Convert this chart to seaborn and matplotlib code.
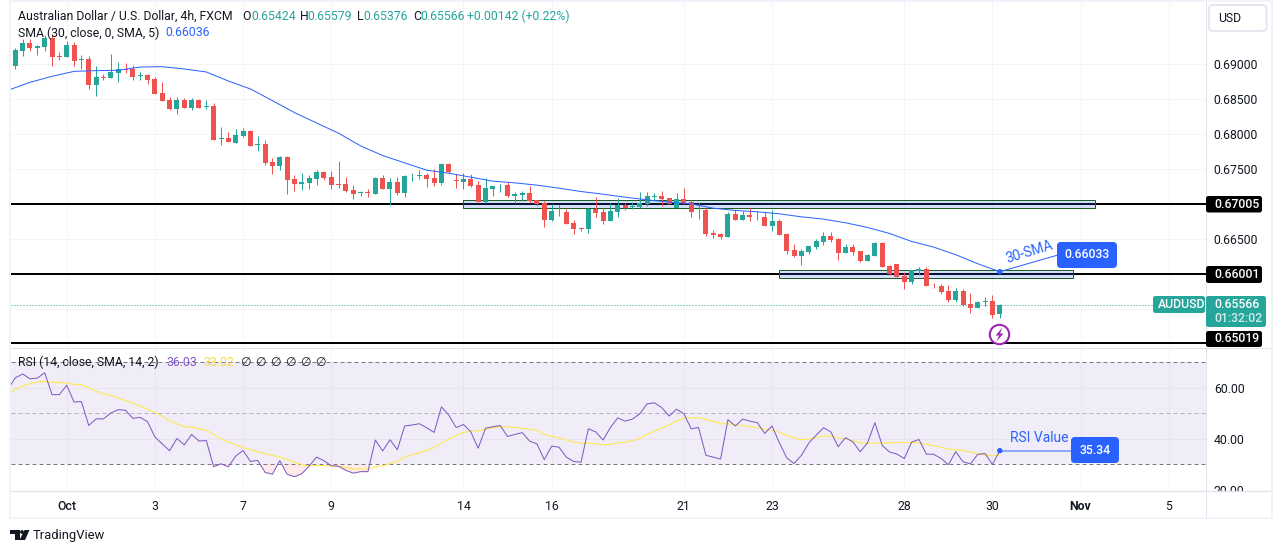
import numpy as np
import pandas as pd
import matplotlib
matplotlib.use('Agg')
import matplotlib.pyplot as plt
import seaborn as sns
from matplotlib.patches import Rectangle, FancyBboxPatch, Circle, Polygon

# AUD/USD 4h candles
opens = [
    .68983, .69193, .69307, .69240, .69250, .69383, .69121, .69107, .69279, .69069,
    .69079, .68707, .68821, .68812, .68883, .68931, .68936, .68836, .68850, .68793,
    .68593, .68488, .68364, .68488, .68379, .68493, .68398, .68407, .67931, .67945,
    .67879, .67979, .68050, .67855, .67864, .67607, .67550, .67683, .67364, .67293,
    .67307, .67364, .67464, .67393, .67293, .67293, .67207, .67169, .67179, .67150,
    .67379, .67221, .67321, .67164, .67398, .67398, .67421, .67378, .67312, .67578,
    .67350, .67321, .67364, .67278, .67040, .67221, .67274, .67278, .67126, .67140,
    .67164, .67064, .67021, .66778, .66907, .66893, .66736, .66660, .66650, .66936,
    .66893, .66764, .66893, .66993, .66959, .66955, .67007, .67107, .67121, .67093,
    .66950, .67079, .67036, .66912, .66921, .66593, .66579, .66536, .66864, .66779,
    .66850, .66836, .66821, .66693, .66764, .66579, .66350, .66264, .66321, .66393,
    .66464, .66550, .66507, .66307, .66393, .66336, .66193, .66264, .66450, .66121,
    .66150, .65979, .65893, .66050, .66079, .65850, .65836, .65764, .65636, .65764,
    .65579, .65522, .65607, .65621, .65424]
closes = [
    .69207, .69307, .69236, .69264, .69379, .69112, .69107, .69279, .69055, .69079,
    .68707, .68821, .68812, .68898, .68936, .68921, .68821, .68845, .68783, .68583,
    .68479, .68364, .68488, .68383, .68493, .68383, .68407, .67926, .67945, .67893,
    .67993, .68050, .67836, .67864, .67593, .67555, .67679, .67350, .67293, .67321,
    .67379, .67464, .67379, .67279, .67279, .67193, .67150, .67179, .67169, .67379,
    .67221, .67321, .67164, .67407, .67407, .67421, .67364, .67312, .67578, .67464,
    .67331, .67364, .67264, .67040, .67236, .67264, .67283, .67121, .67150, .67164,
    .67050, .67007, .66778, .66907, .66898, .66721, .66650, .66650, .66936, .66878,
    .66764, .66907, .66993, .66950, .66974, .67021, .67121, .67117, .67079, .67007,
    .67079, .67021, .66893, .66921, .66579, .66564, .66536, .66864, .66779, .66850,
    .66821, .66831, .66693, .66764, .66564, .66336, .66264, .66336, .66407, .66479,
    .66550, .66493, .66307, .66393, .66321, .66193, .66279, .66450, .66107, .66007,
    .65964, .65893, .66064, .66074, .65836, .65841, .65750, .65636, .65764, .65564,
    .65522, .65607, .65621, .65421, .65566]
highs = [
    .69231, .69360, .69360, .69279, .69421, .69421, .69183, .69331, .69326, .69136,
    .69121, .68979, .68864, .69150, .69036, .69026, .68993, .68893, .68864, .68817,
    .68750, .68531, .68531, .68517, .68517, .68502, .68493, .68445, .68107, .68036,
    .68079, .68093, .68064, .67979, .67921, .67660, .67693, .67693, .67421, .67450,
    .67421, .67493, .67479, .67479, .67621, .67393, .67279, .67193, .67221, .67393,
    .67421, .67379, .67393, .67421, .67450, .67493, .67450, .67502, .67588, .67588,
    .67436, .67445, .67436, .67336, .67378, .67264, .67293, .67321, .67178, .67193,
    .67264, .67064, .67050, .67007, .66993, .66936, .66778, .66678, .66950, .67107,
    .66950, .67021, .67093, .67021, .67036, .67178, .67178, .67164, .67193, .67093,
    .67164, .67236, .67064, .67036, .66950, .66636, .66593, .66893, .66921, .66907,
    .66950, .66907, .66893, .66921, .66793, .66593, .66436, .66364, .66407, .66507,
    .66607, .66607, .66521, .66436, .66436, .66336, .66293, .66464, .66464, .66136,
    .66150, .66036, .66064, .66107, .66107, .65879, .65864, .65850, .65807, .65793,
    .65736, .65621, .65679, .65707, .65579]
lows = [
    .68936, .69126, .69198, .69136, .69198, .68983, .69064, .69107, .68983, .68936,
    .68645, .68550, .68779, .68812, .68750, .68883, .68779, .68779, .68721, .68579,
    .68479, .68350, .68293, .68374, .68350, .68379, .68364, .67926, .67850, .67893,
    .67879, .67964, .67836, .67769, .67564, .67436, .67488, .67150, .67193, .67207,
    .67221, .67279, .67350, .67221, .67236, .67179, .67079, .67112, .67107, .67150,
    .67221, .66993, .67136, .67107, .67336, .67364, .67250, .67255, .67283, .67445,
    .67236, .67221, .67250, .67040, .67021, .67121, .67178, .67107, .67021, .67050,
    .67021, .66978, .66678, .66764, .66836, .66721, .66579, .66621, .66593, .66821,
    .66721, .66764, .66821, .66921, .66936, .66950, .66978, .67050, .66978, .67007,
    .66950, .67007, .66821, .66793, .66550, .66521, .66507, .66536, .66779, .66779,
    .66764, .66779, .66693, .66621, .66564, .66293, .66250, .66136, .66293, .66364,
    .66421, .66464, .66207, .66307, .66279, .66179, .66193, .66264, .66107, .65993,
    .65964, .65793, .65864, .65993, .65836, .65807, .65721, .65607, .65607, .65550,
    .65450, .65522, .65550, .65379, .65376]

# 30 SMA, read every third bar
sma_bars = [-1, 2, 5, 8, 11, 14, 17, 20, 23, 26, 29, 32, 35, 38, 41, 44, 47, 50, 53, 56, 59, 62,
            65, 68, 71, 74, 77, 80, 83, 86, 89, 92, 95, 98, 101, 104, 107, 110, 113, 116, 119,
            122, 125, 128, 131, 134]
sma_values = [
    .68631, .68745, .68831, .68902, .68912, .68917, .68964, .68969, .68936, .68893,
    .68764, .68650, .68483, .68312, .68164, .68017, .67836, .67698, .67593, .67488,
    .67445, .67388, .67331, .67307, .67274, .67231, .67183, .67145, .67102, .67064,
    .67031, .67007, .66945, .66912, .66893, .66864, .66821, .66788, .66736, .66669,
    .66583, .66469, .66388, .66279, .66150, .66036]

# RSI and its SMA, first value is the bar before the first candle
rsi_values = [
    59.3, 63.9, 65.4, 63.5, 63.8, 65.9, 57.3, 57.3, 61.0, 54.4,
    54.6, 45.2, 47.8, 47.8, 50.1, 51.4, 51.2, 48.0, 48.4, 46.7,
    40.7, 38.0, 35.3, 40.1, 37.6, 41.7, 39.1, 39.3, 29.0, 30.2,
    29.0, 33.2, 35.4, 31.1, 31.5, 26.8, 26.1, 31.4, 26.1, 25.1,
    26.3, 29.3, 32.8, 31.4, 29.4, 29.2, 27.6, 26.5, 27.1, 27.1,
    39.5, 35.2, 39.6, 35.7, 45.0, 45.4, 45.9, 44.3, 42.5, 52.5,
    49.3, 44.4, 45.6, 42.7, 36.3, 44.1, 44.7, 45.2, 40.9, 41.7,
    42.4, 39.1, 38.0, 31.8, 37.1, 36.7, 32.8, 31.1, 30.8, 43.9,
    42.7, 39.5, 44.4, 48.2, 46.9, 47.7, 49.8, 53.7, 54.1, 52.2,
    48.9, 51.6, 49.8, 43.9, 44.4, 33.5, 32.8, 32.0, 47.5, 45.0,
    47.7, 46.9, 46.3, 42.1, 45.0, 38.4, 32.5, 30.3, 33.5, 38.3,
    41.4, 44.3, 42.7, 36.9, 40.4, 38.8, 34.9, 38.4, 46.3, 37.4,
    34.8, 34.0, 32.2, 38.7, 39.7, 34.0, 33.9, 32.3, 29.8, 34.9,
    31.0, 30.1, 33.9, 34.2, 29.9, 35.34]
rsi_sma_values = [
    57.9, 59.3, 60.7, 61.6, 62.2, 62.5, 62.2, 62.0, 61.8, 61.4,
    61.2, 60.0, 58.6, 57.6, 57.0, 56.1, 55.0, 54.0, 52.8, 51.6,
    50.3, 48.8, 47.1, 45.9, 44.7, 44.6, 43.9, 43.3, 41.7, 40.1,
    38.7, 37.6, 36.6, 35.7, 34.9, 34.1, 33.5, 32.8, 31.9, 30.8,
    29.9, 29.4, 29.5, 29.5, 29.3, 29.2, 28.6, 28.2, 28.1, 28.1,
    29.0, 29.4, 30.2, 31.1, 32.8, 33.7, 34.5, 35.4, 36.6, 38.2,
    39.9, 41.2, 42.4, 43.1, 43.1, 43.8, 44.3, 44.8, 44.7, 44.4,
    44.1, 43.7, 43.3, 41.7, 40.9, 40.4, 39.5, 38.7, 38.3, 38.3,
    38.0, 37.6, 37.9, 38.3, 38.7, 39.3, 40.1, 41.7, 43.0, 44.2,
    45.5, 46.9, 48.1, 48.2, 48.2, 47.6, 46.8, 45.9, 45.9, 45.5,
    45.2, 44.7, 44.3, 43.7, 43.3, 42.5, 41.3, 40.4, 39.6, 39.9,
    40.5, 41.2, 41.0, 40.4, 40.0, 39.3, 38.4, 38.3, 38.3, 38.3,
    38.4, 38.6, 38.4, 38.4, 38.4, 37.8, 37.3, 36.7, 35.9, 35.7,
    35.4, 34.8, 34.0, 33.6, 33.3, 33.6]

date_bars = [7, 19, 31, 43, 61, 73, 91, 103, 121, 133, 145, 157]
date_labels = ['Oct', '3', '7', '9', '14', '16', '21', '23', '28', '30', 'Nov', '5']
price_ticks = [.655, .66, .665, .67, .675, .68, .685, .69]
price_tick_labels = ['', '', '0.66500', '', '0.67500', '0.68000', '0.68500', '0.69000']
rsi_ticks = [20, 40, 60]
levels = [.67005, .66001, .65019]
upper_zone = [61, 147, .66951, .67057]
lower_zone = [104, 144, .65950, .66056]
last_price = .65566
last_bar = 134

UP = '#26a69a'
DOWN = '#ef5350'
BLUE = '#2962ff'
INK = '#131722'
FRAME = '#f0f3fa'
SEP = '#e0e3eb'
GRID = '#f3f4f6'
FONT = ['Roboto', 'DejaVu Sans']
W, H = 1281, 553
PX = 0.72  # one picture pixel as a line width

sns.set_theme(style='whitegrid', rc={'grid.color': GRID, 'grid.linewidth': PX})
plt.rcParams['font.family'] = FONT
plt.rcParams['font.size'] = 8.8

candles = pd.DataFrame({'open': opens, 'high': highs, 'low': lows, 'close': closes})
candles['bar'] = np.arange(len(candles))
candles['color'] = np.where(candles['close'] >= candles['open'], UP, DOWN)
sma = pd.DataFrame({'bar': sma_bars, 'value': sma_values})
rsi = pd.DataFrame({'bar': np.arange(-1, 135), 'rsi': rsi_values, 'rsi_sma': rsi_sma_values})

fig = plt.figure(figsize=(W / 100, H / 100), dpi=100)
fig.patch.set_facecolor('white')


def add_pane(x0, y0, x1, y1):
    return fig.add_axes([x0 / W, 1 - y1 / H, (x1 - x0) / W, (y1 - y0) / H])


ax = add_pane(11, 2, 1205.5, 347)
ax_rsi = add_pane(11, 348, 1205.5, 490)

# price pane
ax.set_xlim(-0.585, 162)
ax.set_ylim(.64959, .69894)
ax.set_axisbelow(True)
for level in levels:
    ax.axhline(level, color='black', lw=2 * PX, zorder=2)
for zone in (upper_zone, lower_zone):
    ax.add_patch(Rectangle((zone[0], zone[2]), zone[1] - zone[0], zone[3] - zone[2],
                           facecolor=(0.16, 0.38, 1.0, 0.2), edgecolor='#1b5e20', lw=PX, zorder=3))
ax.axhline(last_price, color=UP, lw=PX, ls=(0, (1, 2)), zorder=3)
ax.vlines(candles['bar'], candles['low'], candles['high'], colors=candles['color'], lw=PX, zorder=4)
ax.bar(candles['bar'], (candles['close'] - candles['open']).abs().clip(lower=.00008),
       bottom=candles[['open', 'close']].min(axis=1), width=0.68, color=candles['color'], lw=0, zorder=5)
sns.lineplot(data=sma, x='bar', y='value', color=BLUE, lw=PX, ax=ax, zorder=6, estimator=None)
ax.yaxis.tick_right()
ax.set_yticks(price_ticks)
ax.set_yticklabels(price_tick_labels)
ax.set_xticks(date_bars)
ax.tick_params(axis='x', length=0, labelbottom=False)
ax.tick_params(axis='y', length=0, pad=6, labelcolor=INK, labelsize=8.8)
ax.set_xlabel('')
ax.set_ylabel('')

# RSI pane
ax_rsi.set_xlim(ax.get_xlim())
ax_rsi.set_ylim(19.9, 75.6)
ax_rsi.set_axisbelow(True)
ax_rsi.axhspan(30, 70, facecolor='#7e57c2', alpha=0.1, lw=0, zorder=1)
ax_rsi.axhline(70, color='#787b86', lw=PX, ls=(0, (4, 3)), zorder=2)
ax_rsi.axhline(50, color='#787b86', lw=PX, ls=(0, (4, 3)), alpha=0.5, zorder=2)
ax_rsi.axhline(30, color='#787b86', lw=PX, ls=(0, (4, 3)), zorder=2)
ax_rsi.fill_between(rsi['bar'], rsi['rsi'], 30, where=rsi['rsi'] < 30, interpolate=True,
                    color=DOWN, alpha=0.12, lw=0, zorder=2)
sns.lineplot(data=rsi, x='bar', y='rsi_sma', color='#ffe94d', lw=PX * 1.1, ax=ax_rsi, zorder=3, estimator=None)
sns.lineplot(data=rsi, x='bar', y='rsi', color='#7e57c2', lw=PX, ax=ax_rsi, zorder=4, estimator=None)
ax_rsi.yaxis.tick_right()
ax_rsi.set_yticks(rsi_ticks)
ax_rsi.set_yticklabels([f'{t:.2f}' for t in rsi_ticks])
ax_rsi.set_xticks(date_bars)
ax_rsi.set_xticklabels(date_labels)
ax_rsi.tick_params(axis='x', length=0, pad=7.5, labelcolor=INK, labelsize=8.8)
ax_rsi.tick_params(axis='y', length=0, pad=6, labelcolor=INK, labelsize=8.8)
for tick in ax_rsi.get_xticklabels():
    if tick.get_text() == 'Nov':
        tick.set_fontweight('bold')
    if tick.get_text() == 'Oct':
        tick.set_fontweight('medium')
ax_rsi.set_xlabel('')
ax_rsi.set_ylabel('')
sns.despine(ax=ax, left=True, bottom=True, right=True, top=True)
sns.despine(ax=ax_rsi, left=True, bottom=True, right=True, top=True)

# everything around the panes, in picture pixels
top = fig.add_axes([0, 0, 1, 1], facecolor='none', zorder=10)
top.set_xlim(0, W)
top.set_ylim(H, 0)
top.axis('off')


def px(pane, bar, value):
    x, y = pane.transData.transform((bar, value))
    return x, H - y


def label(x, y, s, color=INK, size=8.8, ha='left', **kw):
    top.text(x, y, s, color=color, fontsize=size, ha=ha, va='center', family=FONT, **kw)


def tag(x0, y0, x1, y1, color, rounding=2.5):
    top.add_patch(FancyBboxPatch((x0, y0), x1 - x0, y1 - y0, boxstyle=f'round,pad=0,rounding_size={rounding}',
                                 facecolor=color, edgecolor='none', zorder=3))


# hide what runs below the RSI pane, then the frame and the separators
top.add_patch(Rectangle((1206, 490.5), 64, 27, facecolor='white', edgecolor='none', zorder=1))
top.plot([11, 1271], [347.5, 347.5], color=SEP, lw=PX, zorder=2)
top.plot([11, 1271], [490.5, 490.5], color=SEP, lw=PX * 1.3, zorder=2)
top.plot([1205.5, 1205.5], [2, 518], color=SEP, lw=PX, zorder=2)
top.add_patch(Rectangle((10, 1), 1262, 517, facecolor='none', edgecolor=FRAME, lw=2 * PX, zorder=2))

# header rows
label(18, 16, 'Australian Dollar / U.S. Dollar, 4h, FXCM')
for x, name, vx, val in [(242, 'O', 251, '0.65424'), (300, 'H', 307, '0.65579'),
                         (357, 'L', 363, '0.65376'), (413, 'C', 420, '0.65566')]:
    label(x, 16, name)
    label(vx, 16, val, color=UP)
label(467, 16, '+0.00142 (+0.22%)', color=UP)
label(18, 33, 'SMA (30, close, 0, SMA, 5)')
label(165, 33, '0.66036', color=BLUE)
label(18, 362, 'RSI (14, close, SMA, 14, 2)')
label(166, 362, '36.03', color='#7e57c2')
label(203, 362, '33.02', color='#fdd835')
for x in [240, 255, 270, 285, 300, 315]:
    label(x, 362, '\u2205')

# USD button
top.add_patch(FancyBboxPatch((1209, 5), 57.5, 26, boxstyle='round,pad=0,rounding_size=4',
                             facecolor='white', edgecolor=SEP, lw=1.2, zorder=3))
label(1218, 18.5, 'USD', zorder=4)

# price tags
for level, y0, y1 in [(.67005, 196, 212.5), (.66001, 266, 283), (.65019, 331, 347)]:
    tag(1206, y0, 1262, y1, 'black')
    label(1214, (y0 + y1) / 2, f'{level:.5f}', color='white', fontweight='medium', zorder=4)
tag(1206, 296, 1266, 327, UP)
label(1214, 304.5, f'{last_price:.5f}', color='white', fontweight='medium', zorder=4)
label(1214, 319, '01:32:02', color='#d4edea', fontweight='medium', zorder=4)
tag(1153, 296, 1205, 313, UP)
label(1158, 304.5, 'AUDUSD', color='white', fontweight='medium', zorder=4)

# 30-SMA callout
sx, sy = px(ax, last_bar, sma_values[-1])
top.plot([sx, 1058], [sy, 255], color=BLUE, lw=PX, zorder=2)
top.add_patch(Circle((sx, sy), 2, color=BLUE, zorder=3))
tag(1057, 242, 1117, 268, BLUE, rounding=4)
label(1087, 255, '0.66033', color='white', ha='center', fontweight='medium', zorder=4)
label(1029, 252, '30-SMA', color=BLUE, size=10, ha='center', rotation=17, rotation_mode='anchor')

# lightning mark under the last candle
top.add_patch(Circle((999.5, 334.5), 9.7, facecolor='white', edgecolor='#9c27b0', lw=1.5, zorder=3))
top.add_patch(Polygon([(1002.5, 327.5), (995.5, 335.5), (999, 335.5), (996.5, 341.5), (1003.5, 333.5), (1000, 333.5)],
                      closed=True, facecolor='#9c27b0', edgecolor='none', zorder=4))

# RSI callout
rx, ry = px(ax_rsi, last_bar, rsi_values[-1])
top.plot([rx, 1072], [ry, ry], color='#8caaff', lw=2 * PX, zorder=2)
top.add_patch(Circle((rx, ry), 2, color=BLUE, zorder=3))
tag(1071, 437, 1119, 463, BLUE, rounding=4)
label(1095, 450, '35.34', color='white', ha='center', fontweight='medium', zorder=4)
label(1010, 438.5, 'RSI Value', color=BLUE, size=10)

# TradingView mark
top.add_patch(Polygon([(10, 530), (19.5, 530), (19.5, 540), (15, 540), (15, 534), (10, 534)],
                      closed=True, facecolor=INK, edgecolor='none'))
top.add_patch(Circle((22, 532), 1.9, facecolor=INK, edgecolor='none'))
top.add_patch(Polygon([(24.5, 530), (29.5, 530), (25, 540), (19.5, 540)],
                      closed=True, facecolor=INK, edgecolor='none'))
label(33, 535.5, 'TradingView', size=9.4)

fig.savefig('out.png', dpi=100)
